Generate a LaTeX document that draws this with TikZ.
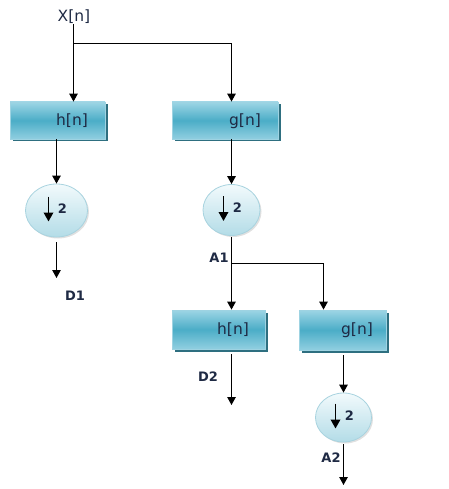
\documentclass[tikz,border=0pt]{standalone}
\usepackage{fontspec}
\setmainfont{DejaVu Sans}
\usetikzlibrary{arrows.meta,shapes.geometric,shadows,calc}
\definecolor{boxtop}{HTML}{9DD5E5}
\definecolor{boxmid}{HTML}{4BADC7}
\definecolor{boxline}{HTML}{9ED3E2}
\definecolor{boxshadow}{HTML}{2E6F80}
\definecolor{circtop}{HTML}{F2FAFC}
\definecolor{circbot}{HTML}{B3DCE7}
\definecolor{circline}{HTML}{A8D3DF}
\definecolor{txt}{HTML}{1F2A44}
\begin{document}
\begin{tikzpicture}[x=1pt,y=-1pt,
  filt/.style={rectangle, draw=boxline, line width=0.8pt, top color=boxtop, bottom color=boxtop!85!boxmid, middle color=boxmid,
    drop shadow={shadow xshift=2.5pt, shadow yshift=-2.5pt, fill=boxshadow, opacity=1}},
  dec/.style={ellipse, draw=circline, line width=0.8pt, top color=circtop, bottom color=circbot,
    drop shadow={shadow xshift=1.5pt, shadow yshift=-1.5pt, fill=black, opacity=0.12}},
  lbl/.style={font=\fontsize{15.5}{17}\selectfont, text=txt, inner sep=0pt},
  sig/.style={font=\fontsize{13}{15}\selectfont\bfseries, text=txt, inner sep=0pt},
  conn/.style={line width=1.2pt, -{Triangle[width=8.5pt,length=8pt]}},
  wire/.style={line width=1.2pt}]
\useasboundingbox (0,0) rectangle (448,489);

% nodes
\node[lbl] (xn) at (74,17) {X[n]};
\node[filt, minimum width=95pt, minimum height=37pt] (h1) at (57.5,120.5) {};
\node[filt, minimum width=106pt, minimum height=37pt] (g1) at (225,120.5) {};
\node[lbl] (h1t) at (72,121) {h[n]};
\node[lbl] (g1t) at (245,121) {g[n]};

\node[dec, minimum width=62pt, minimum height=53pt] (c1) at (56.5,210.5) {};
\node[dec, minimum width=57pt, minimum height=51pt] (c2) at (231.5,210) {};

\node[filt, minimum width=93pt, minimum height=39pt] (h2) at (218.5,329.5) {};
\node[filt, minimum width=87pt, minimum height=40pt] (g2) at (342.5,330) {};
\node[lbl] (h2t) at (233,330) {h[n]};
\node[lbl] (g2t) at (357,330) {g[n]};

\node[dec, minimum width=56pt, minimum height=49pt] (c3) at (343.5,417.5) {};

% down-sampling symbols
\foreach \c in {c1,c2,c3}{
  \draw[line width=1.8pt, -{Triangle[width=9.5pt,length=9pt]}] ($(\c.center)+(-8,-14)$) -- ($(\c.center)+(-8,11)$);
  \node[font=\fontsize{13}{15}\selectfont\bfseries, text=txt, inner sep=0pt] at ($(\c.center)+(6,-2)$) {2};
}

% signal labels
\node[sig] (d1) at (75,296) {D1};
\node[sig] (a1) at (219,258) {A1};
\node[sig] (d2) at (208,377) {D2};
\node[sig] (a2) at (331,458) {A2};

% coordinates
\coordinate (s1) at (73.5,43.5);
\coordinate (s2) at (231.5,43.5);
\coordinate (sa) at (231.5,263.5);
\coordinate (g2in) at (323.5,263.5);
\coordinate (d1end) at (56.5,278);
\coordinate (d2end) at (231.5,405);
\coordinate (a2end) at (343.5,485);

% connectors
\draw[wire] (xn.south -| s1) -- (s1) -- (s2);
\draw[conn] (s1) -- (s1 |- h1.north);
\draw[conn] (s2) -- (s2 |- g1.north);
\draw[conn] (h1.south -| c1) -- (c1.north);
\draw[conn] ($(c1.south)+(0,5)$) -- (d1end);
\draw[conn] (g1.south -| c2) -- (c2.north);
\draw[conn] ($(c2.south)+(0,1)$) -- (sa |- h2.north);
\draw[conn] (sa) -- (g2in) -- (g2in |- g2.north);
\draw[conn] ($(h2.south -| d2end)+(0,5)$) -- (d2end);
\draw[conn] ($(g2.south -| c3)+(0,5)$) -- (c3.north);
\draw[conn] ($(c3.south)+(0,2)$) -- (a2end);
\end{tikzpicture}
\end{document}
